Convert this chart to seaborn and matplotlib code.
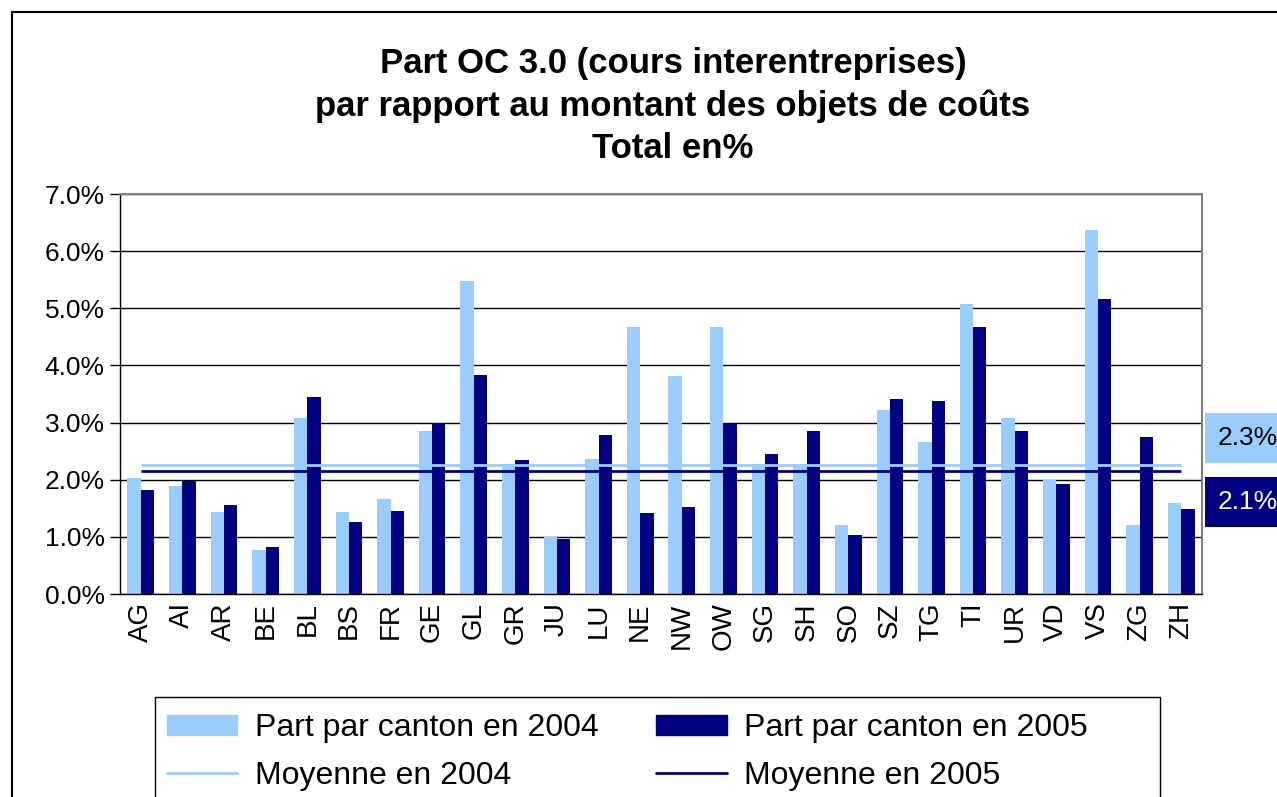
import matplotlib
matplotlib.use("Agg")
import matplotlib.pyplot as plt
import matplotlib.patches as mpatches
import matplotlib.lines as mlines
import seaborn as sns
import pandas as pd
import numpy as np

cantons = ["AG", "AI", "AR", "BE", "BL", "BS", "FR", "GE", "GL", "GR", "JU", "LU", "NE",
           "NW", "OW", "SG", "SH", "SO", "SZ", "TG", "TI", "UR", "VD", "VS", "ZG", "ZH"]
part_2004 = [2.03, 1.89, 1.44, 0.77, 3.08, 1.44, 1.66, 2.85, 5.48, 2.27, 1.00, 2.36, 4.67,
             3.82, 4.67, 2.27, 2.27, 1.21, 3.22, 2.66, 5.08, 3.08, 2.00, 6.37, 1.21, 1.59]
part_2005 = [1.82, 1.97, 1.56, 0.82, 3.45, 1.26, 1.45, 3.00, 3.83, 2.34, 0.97, 2.78, 1.42,
             1.52, 2.97, 2.45, 2.86, 1.04, 3.41, 3.38, 4.67, 2.86, 1.93, 5.16, 2.75, 1.49]
mean_2004 = 2.26
mean_2005 = 2.15
series = ["Part par canton en 2004", "Part par canton en 2005"]

light = "#99CCFF"
dark = "#000080"

df = pd.DataFrame({
    "Canton": cantons * 2,
    "Part": part_2004 + part_2005,
    "Serie": [series[0]] * len(cantons) + [series[1]] * len(cantons),
})

sns.set_style("white")
plt.rcParams["font.family"] = ["Liberation Sans", "DejaVu Sans"]
plt.rcParams["text.color"] = "black"
plt.rcParams["xtick.color"] = "black"
plt.rcParams["ytick.color"] = "black"

fig = plt.figure(figsize=(12.77, 7.97), dpi=100)
W, H = 1277, 797
ax = fig.add_axes([120 / W, (H - 594) / H, 1082 / W, 400 / H])

sns.barplot(data=df, x="Canton", y="Part", hue="Serie", palette=[light, dark],
            width=0.64, gap=0, saturation=1, linewidth=0, edgecolor="none",
            ax=ax, legend=False)

n = len(cantons)
ax.hlines(mean_2004, 0, n - 1, color=light, lw=2, zorder=3)
ax.hlines(mean_2005, 0, n - 1, color=dark, lw=2, zorder=3)

ax.set_xlim(-0.5, n - 0.5)
ax.set_ylim(0, 7)
ax.set_yticks(np.arange(0, 7.01, 1))
ax.set_yticklabels([f"{v:.1f}%" for v in np.arange(0, 7.01, 1)], fontsize=19)
ax.yaxis.grid(True, color="black", lw=1)
ax.set_axisbelow(True)
ax.set_xlabel("")
ax.set_ylabel("")
ax.set_xticks(range(n))
ax.set_xticklabels(cantons, rotation=90, fontsize=20)
ax.set_xticks(np.arange(-0.5, n, 1), minor=True)
ax.tick_params(axis="x", which="major", length=0, pad=6)
ax.tick_params(axis="x", which="minor", length=7, width=1, color="black", direction="out")
ax.tick_params(axis="y", length=7, width=1, color="black", direction="out", left=True, pad=4)

for side in ["top", "right"]:
    ax.spines[side].set_color("#808080")
    ax.spines[side].set_linewidth(1.5)
for side in ["left", "bottom"]:
    ax.spines[side].set_color("black")
    ax.spines[side].set_linewidth(1)

fig.text(673 / W, 1 - 106 / H,
         "Part OC 3.0 (cours interentreprises)\npar rapport au montant des objets de coûts\nTotal en%",
         ha="center", va="center", fontsize=25, fontweight="bold", linespacing=1.36)

# mean value labels at the right
fig.text(1218 / W, 1 - 438 / H, f"{mean_2004:.1f}%", fontsize=19, color="black",
         va="center", ha="left",
         bbox=dict(boxstyle="square,pad=0.5", fc=light, ec="none"))
fig.text(1218 / W, 1 - 502 / H, f"{mean_2005:.1f}%", fontsize=19, color="white",
         va="center", ha="left",
         bbox=dict(boxstyle="square,pad=0.5", fc=dark, ec="none"))

# outer chart border
fig.patches.append(mpatches.Rectangle((12 / W, -0.1), 1.2, 1 - 12 / H + 0.1,
                                      transform=fig.transFigure, fill=False,
                                      ec="black", lw=1.5))
# legend frame (runs off the bottom edge like the original)
fig.patches.append(mpatches.Rectangle((155 / W, -0.1), (1160 - 155) / W, 1 - 697 / H + 0.1,
                                      transform=fig.transFigure, fill=False,
                                      ec="black", lw=1))

handles = [
    mpatches.Patch(color=light, label=series[0]),
    mlines.Line2D([], [], color=light, lw=2, label="Moyenne en 2004"),
    mpatches.Patch(color=dark, label=series[1]),
    mlines.Line2D([], [], color=dark, lw=2, label="Moyenne en 2005"),
]
leg = fig.legend(handles=handles, ncol=2, loc="upper left",
                 bbox_to_anchor=(156 / W, 1 - 702 / H), fontsize=23,
                 frameon=False, handlelength=2.2, handleheight=0.6, handletextpad=0.55,
                 columnspacing=1.8, labelspacing=0.55, borderpad=0.35,
                 borderaxespad=0)

fig.savefig("out.png", dpi=100)
